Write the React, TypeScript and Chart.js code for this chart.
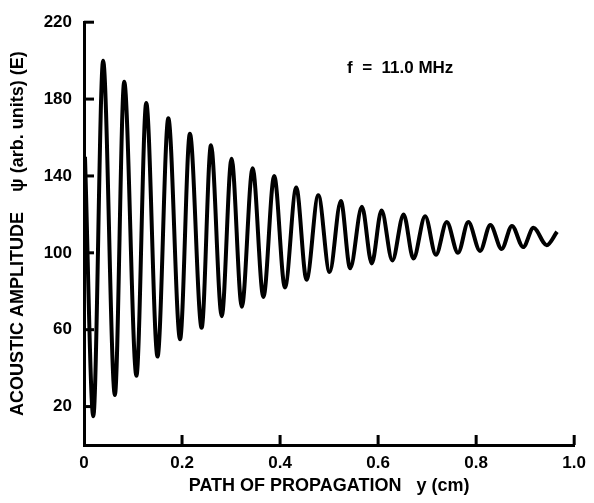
import React, { useEffect, useRef } from "react";
import { Chart, registerables } from "chart.js";

Chart.register(...registerables);

// Extrema of the trace (x in cm, amplitude in arb. units)
const pathCm: number[] = [
  0.002, 0.019, 0.039, 0.063, 0.082, 0.107, 0.127, 0.150, 0.172, 0.196,
  0.216, 0.240, 0.259, 0.281, 0.301, 0.322, 0.344, 0.366, 0.388, 0.410,
  0.433, 0.454, 0.478, 0.501, 0.524, 0.543, 0.567, 0.587, 0.607, 0.629,
  0.652, 0.672, 0.696, 0.718, 0.740, 0.763, 0.784, 0.808, 0.829, 0.852,
  0.873, 0.896, 0.917, 0.944, 0.965,
];
const amplitude: number[] = [
  150, 15, 200, 26, 189, 36, 178, 46, 170, 55,
  162, 61, 156, 67, 149, 72, 144, 77, 140, 82,
  134, 86, 130, 90, 127, 92, 124, 94.5, 122, 96,
  120, 97, 119, 99, 116, 100, 116, 101, 114.5, 102,
  114, 103, 113, 104, 111,
];
const yTickValues: number[] = [20, 60, 100, 140, 180, 220];
const xTickValues: number[] = [0, 0.2, 0.4, 0.6, 0.8, 1.0];
const annotationText = "f  =  11.0 MHz";
const annotationAt = { x: 0.645, y: 196 };
const xTitle = "PATH OF PROPAGATION   y (cm)";
const yTitle = "ACOUSTIC AMPLITUDE    \u03C8 (arb. units) (E)";

const FONT = "'Liberation Sans', Arial, Helvetica, sans-serif";

export default function App() {
  const canvasRef = useRef<HTMLCanvasElement | null>(null);

  useEffect(() => {
    const canvas = canvasRef.current;
    if (!canvas) return;

    const innerTicks = {
      id: "innerTicks",
      afterDraw(chart: any) {
        const ctx: CanvasRenderingContext2D = chart.ctx;
        const area = chart.chartArea;
        const xs = chart.scales.x;
        const ys = chart.scales.y;
        ctx.save();
        ctx.setLineDash([]);
        ctx.fillStyle = "#000";
        for (const v of yTickValues) {
          const py = ys.getPixelForValue(v);
          ctx.fillRect(area.left, py - 1.5, 10, 3);
        }
        for (const v of xTickValues) {
          if (v === 0) continue;
          const px = xs.getPixelForValue(v);
          ctx.fillRect(px - 1.5, area.bottom - 10, 3, 10);
        }
        ctx.font = `bold 17px ${FONT}`;
        ctx.textAlign = "center";
        ctx.textBaseline = "middle";
        ctx.fillText(
          annotationText,
          xs.getPixelForValue(annotationAt.x),
          ys.getPixelForValue(annotationAt.y)
        );
        ctx.restore();
      },
    };

    const chart = new Chart(canvas, {
      type: "line",
      data: {
        datasets: [
          {
            data: pathCm.map((x, i) => ({ x, y: amplitude[i] })),
            borderColor: "#000",
            borderWidth: 4,
            pointRadius: 0,
            fill: false,
            cubicInterpolationMode: "monotone",
          },
        ],
      },
      options: {
        responsive: false,
        animation: false,
        layout: { padding: { top: 16, right: 17, left: 0, bottom: 0 } },
        plugins: {
          legend: { display: false },
          tooltip: { enabled: false },
        },
        scales: {
          x: {
            type: "linear",
            min: 0,
            max: 1,
            afterBuildTicks: (scale: any) => {
              scale.ticks = xTickValues.map((v) => ({ value: v }));
            },
            afterFit: (scale: any) => {
              scale.height = 58;
            },
            grid: { display: false, drawTicks: false },
            border: { display: true, color: "#000", width: 3 },
            ticks: {
              color: "#000",
              padding: 8,
              maxRotation: 0,
              font: { family: FONT, size: 17, weight: "bold" },
              callback: (v: any) => (Number(v) === 0 ? "0" : Number(v).toFixed(1)),
            },
            title: {
              display: true,
              text: xTitle,
              color: "#000",
              font: { family: FONT, size: 18, weight: "bold" },
              padding: { top: 2, bottom: 6 },
            },
          },
          y: {
            type: "linear",
            min: 0,
            max: 220,
            afterBuildTicks: (scale: any) => {
              scale.ticks = yTickValues.map((v) => ({ value: v }));
            },
            afterFit: (scale: any) => {
              scale.width = 84;
            },
            grid: { display: false, drawTicks: false },
            border: { display: true, color: "#000", width: 3 },
            ticks: {
              color: "#000",
              padding: 12,
              font: { family: FONT, size: 17, weight: "bold" },
              callback: (v: any) => String(v),
            },
            title: {
              display: true,
              text: yTitle,
              color: "#000",
              font: { family: FONT, size: 18, weight: "bold" },
              padding: { top: 7, bottom: 0 },
            },
          },
        },
      },
      plugins: [innerTicks],
    } as any);

    return () => chart.destroy();
  }, []);

  return (
    <div style={{ position: "absolute", left: 0, top: 0, width: 594, height: 503, background: "#fff" }}>
      <canvas ref={canvasRef} width={594} height={503} />
    </div>
  );
}
